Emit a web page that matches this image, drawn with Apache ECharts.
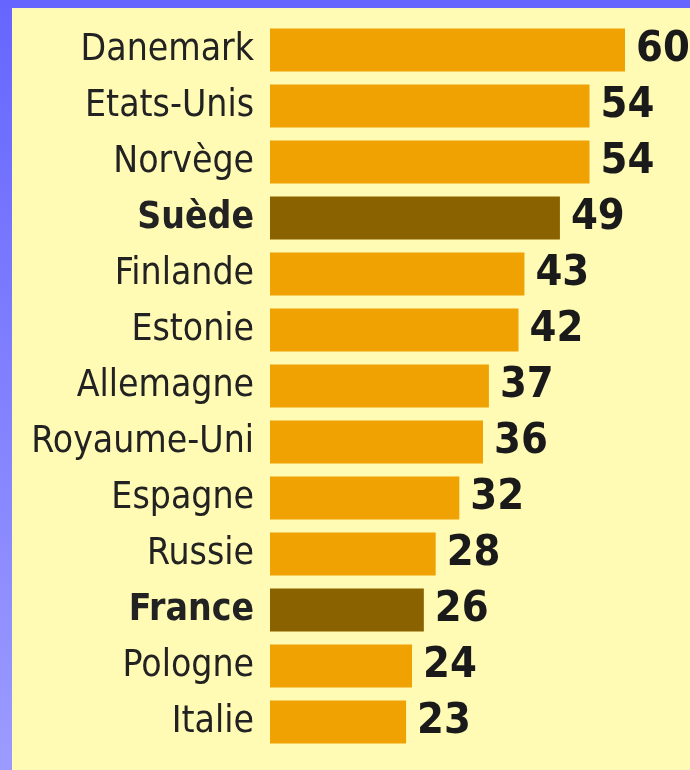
<!DOCTYPE html>
<html>
<head>
<meta charset="utf-8">
<script src="https://cdn.jsdelivr.net/npm/echarts@6/dist/echarts.min.js"></script>
<style>
  body { margin: 0; }
  #main { width: 690px; height: 770px; }
</style>
</head>
<body>
<div id="main"></div>
<script>
var myChart = echarts.init(document.getElementById('main'));

// countries, top to bottom
var countries = ['Danemark', 'Etats-Unis', 'Norvège', 'Suède', 'Finlande', 'Estonie', 'Allemagne',
    'Royaume-Uni', 'Espagne', 'Russie', 'France', 'Pologne', 'Italie'];
var values = [60, 54, 54, 49, 43, 42, 37, 36, 32, 28, 26, 24, 23];
// countries drawn in the dark colour
var highlighted = ['Suède', 'France'];

var orange = '#F0A202';
var dark = '#8A6300';
var font = '"DejaVu Sans Condensed", "Liberation Sans Narrow", sans-serif';

var option = {
    backgroundColor: '#FFFAB4',
    animation: false,
    graphic: [
        // blue frame, top and left
        {
            type: 'rect',
            shape: { x: 0, y: 0, width: 690, height: 8 },
            style: { fill: '#6666FF' }
        },
        {
            type: 'rect',
            shape: { x: 0, y: 0, width: 12, height: 770 },
            style: {
                fill: new echarts.graphic.LinearGradient(0, 0, 0, 1, [
                    { offset: 0, color: '#6666FF' },
                    { offset: 1, color: '#9B9BFF' }
                ])
            }
        }
    ],
    grid: {
        left: 270,
        right: 65,
        top: 22,
        bottom: 20,
        containLabel: false
    },
    xAxis: {
        type: 'value',
        min: 0,
        max: 60,
        show: false
    },
    yAxis: {
        type: 'category',
        inverse: true,
        data: countries,
        axisLine: { show: false },
        axisTick: { show: false },
        axisLabel: {
            interval: 0,
            margin: 16,
            fontFamily: font,
            fontSize: 37,
            color: '#222',
            formatter: function (v) {
                return highlighted.indexOf(v) >= 0 ? '{b|' + v + '}' : v;
            },
            rich: {
                b: {
                    fontFamily: font,
                    fontSize: 37,
                    fontWeight: 'bold',
                    color: '#222'
                }
            }
        }
    },
    series: [
        {
            type: 'bar',
            barWidth: 43,
            data: values.map(function (v, i) {
                return {
                    value: v,
                    itemStyle: {
                        color: highlighted.indexOf(countries[i]) >= 0 ? dark : orange
                    }
                };
            }),
            label: {
                show: true,
                position: 'right',
                distance: 11,
                fontFamily: font,
                fontWeight: 'bold',
                fontSize: 43,
                color: '#1a1a1a'
            }
        }
    ]
};

option && myChart.setOption(option);
</script>
</body>
</html>
